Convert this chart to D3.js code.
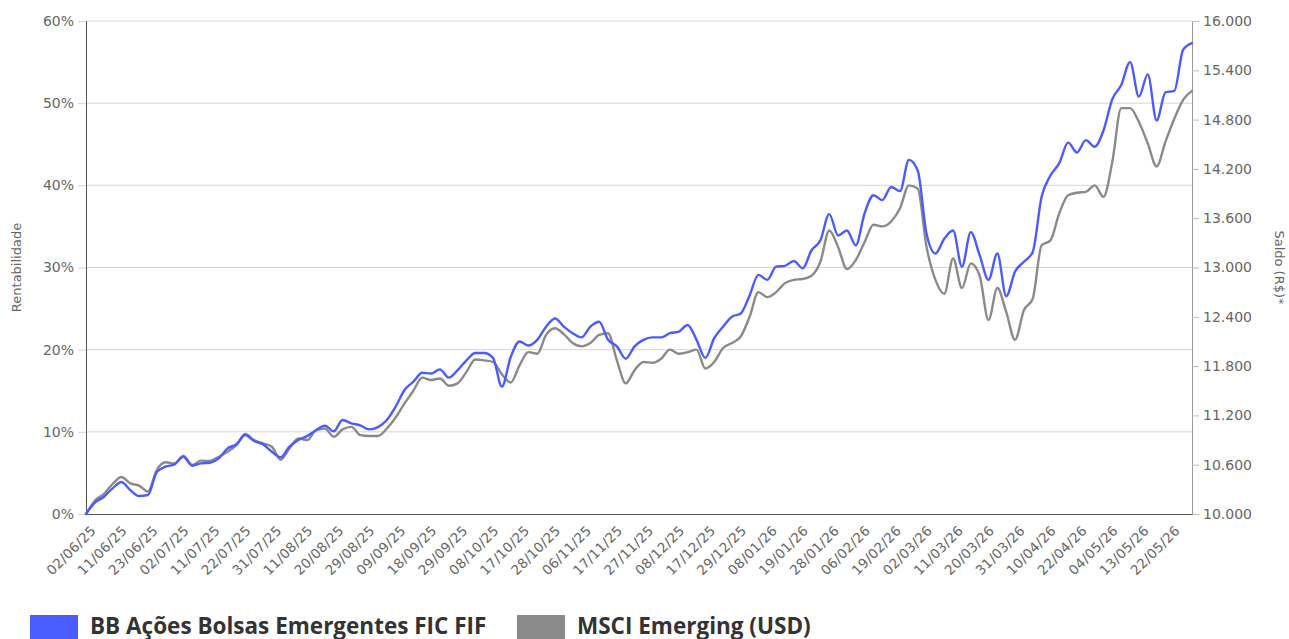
<!DOCTYPE html>
<html>
<head>
<meta charset="utf-8">
<script src="https://cdn.jsdelivr.net/npm/d3@7"></script>
<style>
  html, body { margin: 0; padding: 0; background: #fff; }
  svg { display: block; }
  text { font-family: "DejaVu Sans", sans-serif; }
</style>
</head>
<body>
<svg id="chart" width="1289" height="639"></svg>
<script>
// ---- data ----
const dateLabels = ["02/06/25","11/06/25","23/06/25","02/07/25","11/07/25","22/07/25","31/07/25","11/08/25","20/08/25","29/08/25","09/09/25","18/09/25","29/09/25","08/10/25","17/10/25","28/10/25","06/11/25","17/11/25","27/11/25","08/12/25","17/12/25","29/12/25","08/01/26","19/01/26","28/01/26","06/02/26","19/02/26","02/03/26","11/03/26","20/03/26","31/03/26","10/04/26","22/04/26","04/05/26","13/05/26","22/05/26"];
const labelEvery = 7;      // trading days between labels
const sampleEvery = 2;     // trading days between samples
const seriesNames = ["BB Ações Bolsas Emergentes FIC FIF", "MSCI Emerging (USD)"];
const seriesColors = ["#4a5cff", "#8a8a8a"];
// cumulative return (%), one value every 2 trading days
const fundValues = [0,1.38,2.07,3.12,3.89,2.9,2.19,2.31,5.1,5.76,6.04,6.97,5.88,6.16,6.24,6.77,7.99,8.48,9.61,8.88,8.48,7.58,6.9,8.19,9.0,9.49,10.2,10.75,10.06,11.44,11.03,10.79,10.3,10.58,11.44,13.06,15.09,16.1,17.19,17.1,17.6,16.6,17.5,18.7,19.6,19.6,19.0,15.5,19.1,21.0,20.5,21.2,22.8,23.8,22.8,22.0,21.5,22.8,23.4,21.2,20.4,18.9,20.4,21.2,21.5,21.5,22.0,22.2,23.0,21.2,19.0,21.4,22.8,24.0,24.4,26.6,29.1,28.5,30.1,30.2,30.8,29.9,32.1,33.3,36.5,33.9,34.5,32.7,36.6,38.8,38.2,39.8,39.3,43.1,41.8,34.1,31.7,33.5,34.5,30.1,34.3,31.5,28.5,31.7,26.5,29.5,30.7,31.9,38.6,41.2,42.7,45.2,44.0,45.5,44.7,46.7,50.5,52.2,55.0,50.8,53.5,47.9,51.3,51.5,56.5,57.3];
const msciValues = [0,1.62,2.43,3.65,4.5,3.73,3.45,2.72,5.35,6.29,6.16,7.06,5.96,6.49,6.45,6.97,7.58,8.39,9.73,9.0,8.6,8.19,6.6,7.99,9.2,9.0,10.2,10.4,9.4,10.3,10.6,9.6,9.5,9.5,10.4,11.76,13.46,15.0,16.6,16.3,16.5,15.6,15.9,17.3,18.8,18.7,18.5,17.0,16.0,18.1,19.7,19.5,21.8,22.6,21.9,20.8,20.4,20.8,21.8,22.0,18.7,15.9,17.5,18.5,18.4,18.9,20.0,19.5,19.7,20.0,17.7,18.5,20.2,20.8,21.6,24.0,27.0,26.4,27.0,28.1,28.5,28.6,29.0,30.7,34.5,32.5,29.8,30.9,33.1,35.2,35.0,35.6,37.2,40.0,39.6,32.5,28.5,26.8,31.1,27.5,30.5,29.0,23.6,27.5,24.6,21.2,24.8,26.2,32.7,33.3,36.6,38.8,39.1,39.2,40.0,38.6,42.9,49.4,49.4,47.7,45.1,42.3,45.3,48.1,50.4,51.5];
const leftTicks = [0,10,20,30,40,50,60];
const rightTicks = [10000,10600,11200,11800,12400,13000,13600,14200,14800,15400,16000];
const leftTitle = "Rentabilidade";
const rightTitle = "Saldo (R$)*";

// ---- layout ----
const svg = d3.select("#chart");
const M = { left: 86, right: 1192, top: 21, bottom: 514 };
const lastIndex = (fundValues.length - 1) * sampleEvery;

const x = d3.scaleLinear().domain([0, lastIndex]).range([M.left, M.right]);
const yL = d3.scaleLinear().domain([0, 60]).range([M.bottom, M.top]);
const yR = d3.scaleLinear().domain([10000, 16000]).range([M.bottom, M.top]);

const br = d3.formatLocale({ decimal: ",", thousands: ".", grouping: [3], currency: ["R$", ""] });
const fmtR = br.format(",.0f");

const labelColor = "#666";

// gridlines
svg.append("g")
  .selectAll("line").data(leftTicks.filter(d => d > 0)).join("line")
  .attr("x1", M.left).attr("x2", M.right)
  .attr("y1", d => yL(d)).attr("y2", d => yL(d))
  .attr("stroke", "#d6d6d6").attr("stroke-width", 1);

// left axis
const gL = svg.append("g").attr("transform", `translate(${M.left},0)`)
  .call(d3.axisLeft(yL).tickValues(leftTicks).tickFormat(d => d + "%").tickSize(8).tickPadding(4));
gL.select(".domain").attr("stroke", "#555");
gL.selectAll(".tick line").attr("stroke", "#d6d6d6");
gL.selectAll(".tick text").attr("fill", labelColor).style("font-size", "14px").style("font-family", "DejaVu Sans");

// right axis
const gR = svg.append("g").attr("transform", `translate(${M.right},0)`)
  .call(d3.axisRight(yR).tickValues(rightTicks).tickFormat(fmtR).tickSize(7).tickPadding(4));
gR.select(".domain").attr("stroke", "#999");
gR.selectAll(".tick line").attr("stroke", "#bbb");
gR.selectAll(".tick text").attr("fill", labelColor).style("font-size", "14px").style("font-family", "DejaVu Sans");

// bottom axis
const tickIdx = dateLabels.map((d, i) => i * labelEvery);
const gB = svg.append("g").attr("transform", `translate(0,${M.bottom})`)
  .call(d3.axisBottom(x).tickValues(tickIdx).tickFormat((d, i) => dateLabels[i]).tickSize(0));
gB.select(".domain").attr("stroke", "#555");
gB.selectAll(".tick text")
  .attr("fill", labelColor).style("font-size", "13.5px").style("font-family", "DejaVu Sans")
  .style("letter-spacing", "0.3px")
  .attr("text-anchor", "end")
  .attr("dy", "0.35em")
  .attr("transform", "translate(7,14) rotate(-45)")
  .attr("x", 0).attr("y", 0);

// axis titles
svg.append("text")
  .attr("transform", `translate(21,${(M.top + M.bottom) / 2}) rotate(-90)`)
  .attr("text-anchor", "middle").attr("fill", labelColor)
  .style("font-size", "13px").text(leftTitle);
svg.append("text")
  .attr("transform", `translate(1275,${(M.top + M.bottom) / 2}) rotate(90)`)
  .attr("text-anchor", "middle").attr("fill", labelColor)
  .style("font-size", "13px").text(rightTitle);

// lines
const line = d3.line()
  .x((d, i) => x(i * sampleEvery))
  .y(d => yL(d))
  .curve(d3.curveMonotoneX);

[msciValues, fundValues].forEach((vals, k) => {
  const ci = k === 0 ? 1 : 0;
  svg.append("path").datum(vals)
    .attr("d", line)
    .attr("fill", "none")
    .attr("stroke", seriesColors[ci])
    .attr("stroke-width", 2.4)
    .attr("stroke-linejoin", "round")
    .attr("stroke-linecap", "round");
});

// legend
const legendX = [30, 517];
const lg = svg.append("g");
seriesNames.forEach((name, i) => {
  lg.append("rect").attr("x", legendX[i]).attr("y", 615).attr("width", 48).attr("height", 30)
    .attr("fill", seriesColors[i]);
  lg.append("text").attr("x", legendX[i] + 60).attr("y", 634)
    .attr("fill", "#333").style("font-size", "22.5px").style("font-weight", "700")
    .style("font-family", "Open Sans")
    .text(name);
});
</script>
</body>
</html>
